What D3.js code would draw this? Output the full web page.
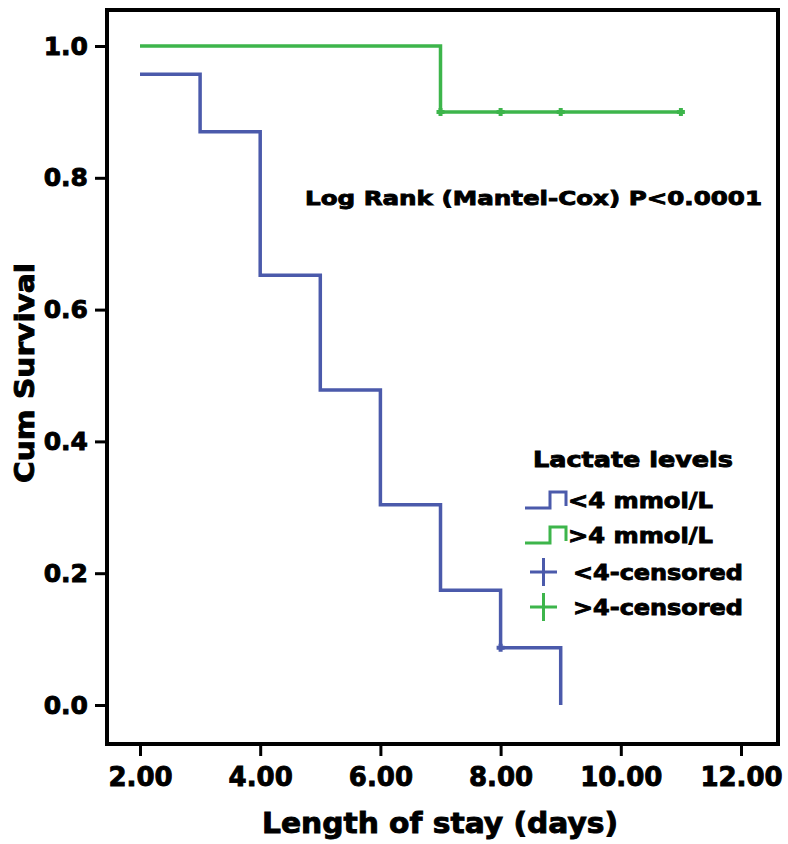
<!DOCTYPE html>
<html>
<head>
  <meta charset="utf-8">
  <title>Kaplan-Meier: Lactate levels</title>
  <script src="https://d3js.org/d3.v7.min.js"></script>
  <style>
    body { margin: 0; background: #fff; }
    svg text { font-family: "DejaVu Sans", Arial, sans-serif; font-weight: bold; fill: #000;
               stroke: #000; stroke-width: 0.9px; }
  </style>
</head>
<body>
<div id="chart"></div>
<script>
  // step data (time in days, cumulative survival)
  var lowTimes = [2, 3, 4, 5, 6, 7, 8, 9];
  var lowSurv = [0.957, 0.870, 0.652, 0.478, 0.304, 0.174, 0.087, 0.0];
  var lowCensTimes = [8];
  var lowCensSurv = [0.087];

  var highTimes = [2, 7, 11];
  var highSurv = [1.0, 0.9, 0.9];
  var highCensTimes = [7, 8, 9, 11];
  var highCensSurv = [0.9, 0.9, 0.9, 0.9];

  var xTicks = [2, 4, 6, 8, 10, 12];
  var yTicks = [0, 0.2, 0.4, 0.6, 0.8, 1.0];

  var legendTitle = "Lactate levels";
  var legendLabels = ["<4 mmol/L", ">4 mmol/L", "<4-censored", ">4-censored"];
  var statText = "Log Rank (Mantel-Cox) P<0.0001";

  var blue = "#4b5aab", green = "#3db54b";

  var W = 788, H = 844;
  var frame = {left: 107, top: 10, right: 778, bottom: 744};

  var svg = d3.select("#chart").append("svg")
      .attr("width", W).attr("height", H);

  var x = d3.scaleLinear().domain([2, 12]).range([140, 741]);
  var y = d3.scaleLinear().domain([0, 1]).range([705, 46]);

  // frame
  svg.append("rect")
      .attr("x", frame.left).attr("y", frame.top)
      .attr("width", frame.right - frame.left)
      .attr("height", frame.bottom - frame.top)
      .attr("fill", "none").attr("stroke", "#000").attr("stroke-width", 4);

  // axes
  var yAxis = svg.append("g")
      .attr("transform", "translate(" + frame.left + ",0)")
      .call(d3.axisLeft(y).tickValues(yTicks).tickFormat(d3.format(".1f")).tickSize(12).tickPadding(7));
  var xAxis = svg.append("g")
      .attr("transform", "translate(0," + frame.bottom + ")")
      .call(d3.axisBottom(x).tickValues(xTicks).tickFormat(d3.format(".2f")).tickSize(12).tickPadding(12));

  [yAxis, xAxis].forEach(function(a) {
    a.select(".domain").remove();
    a.selectAll(".tick line").attr("stroke", "#000").attr("stroke-width", 3);
    a.selectAll(".tick text").style("font-size", "25px").attr("fill", "#000");
  });
  xAxis.selectAll(".tick text").style("font-size", "26px");

  // curves
  var line = d3.line()
      .x(function(d) { return x(d[0]); })
      .y(function(d) { return y(d[1]); })
      .curve(d3.curveStepAfter);

  var series = [
    {times: lowTimes, surv: lowSurv, ct: lowCensTimes, cs: lowCensSurv, color: blue},
    {times: highTimes, surv: highSurv, ct: highCensTimes, cs: highCensSurv, color: green}
  ];

  series.forEach(function(s) {
    var pts = d3.zip(s.times, s.surv);
    svg.append("path")
        .datum(pts)
        .attr("d", line)
        .attr("fill", "none")
        .attr("stroke", s.color)
        .attr("stroke-width", 3.5);

    svg.selectAll(null)
        .data(d3.zip(s.ct, s.cs))
      .enter().append("path")
        .attr("d", function(d) {
          var cx = x(d[0]), cy = y(d[1]);
          return "M" + (cx - 4) + "," + cy + "H" + (cx + 4) + "M" + cx + "," + (cy - 4) + "V" + (cy + 4);
        })
        .attr("stroke", s.color)
        .attr("stroke-width", 4);
  });

  // axis titles
  svg.append("text")
      .attr("x", 440).attr("y", 833)
      .attr("text-anchor", "middle")
      .attr("textLength", 356).attr("lengthAdjust", "spacingAndGlyphs")
      .style("font-size", "28px")
      .text("Length of stay (days)");

  svg.append("text")
      .attr("transform", "translate(34,373) rotate(-90)")
      .attr("text-anchor", "middle")
      .attr("textLength", 220).attr("lengthAdjust", "spacingAndGlyphs")
      .style("font-size", "26px")
      .text("Cum Survival");

  // statistic
  svg.append("text")
      .attr("x", 305).attr("y", 205)
      .attr("textLength", 457).attr("lengthAdjust", "spacingAndGlyphs")
      .style("font-size", "20px")
      .text(statText);

  // legend
  svg.append("text")
      .attr("x", 533).attr("y", 467)
      .attr("textLength", 200).attr("lengthAdjust", "spacingAndGlyphs")
      .style("font-size", "21px")
      .text(legendTitle);

  var legendY = [500, 535, 572, 607];
  var legendColors = [blue, green, blue, green];
  var legendTextX = [568, 568, 573, 573];
  var legendTextLen = [145, 145, 170, 170];

  legendLabels.forEach(function(lab, i) {
    var ly = legendY[i];
    if (i < 2) {
      svg.append("path")
          .attr("d", "M525," + (ly + 8) + "H550V" + (ly - 8) + "H566V" + (ly + 6))
          .attr("fill", "none").attr("stroke", legendColors[i]).attr("stroke-width", 3);
    } else {
      svg.append("path")
          .attr("d", "M530," + ly + "H557M543.5," + (ly - 14) + "V" + (ly + 14))
          .attr("stroke", legendColors[i]).attr("stroke-width", 3);
    }
    svg.append("text")
        .attr("x", legendTextX[i]).attr("y", ly + 8)
        .attr("textLength", legendTextLen[i]).attr("lengthAdjust", "spacingAndGlyphs")
        .style("font-size", "21px")
        .text(lab);
  });
</script>
</body>
</html>
